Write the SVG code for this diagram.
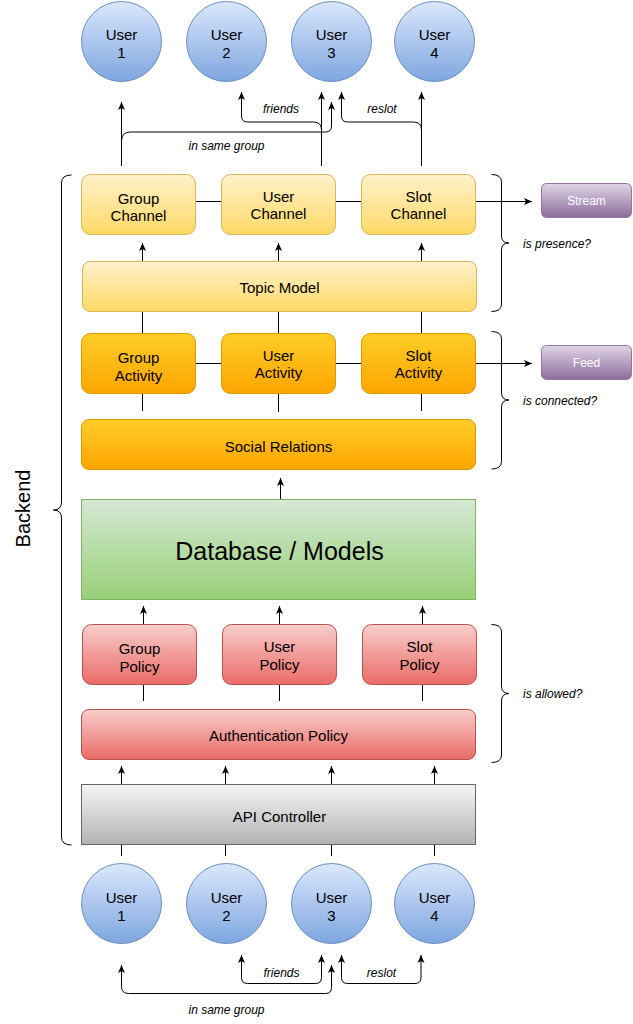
<svg xmlns="http://www.w3.org/2000/svg" width="633" height="1024" viewBox="0 0 633 1024">
<defs>
<linearGradient id="gBlue" x1="0" y1="0" x2="0" y2="1"><stop offset="0" stop-color="#dae8fc"/><stop offset="1" stop-color="#7ea6e0"/></linearGradient>
<linearGradient id="gYellow" x1="0" y1="0" x2="0" y2="1"><stop offset="0" stop-color="#fff2cc"/><stop offset="1" stop-color="#ffd966"/></linearGradient>
<linearGradient id="gOrange" x1="0" y1="0" x2="0" y2="1"><stop offset="0" stop-color="#ffcd28"/><stop offset="1" stop-color="#ffa500"/></linearGradient>
<linearGradient id="gGreen" x1="0" y1="0" x2="0" y2="1"><stop offset="0" stop-color="#d5e8d4"/><stop offset="1" stop-color="#97d077"/></linearGradient>
<linearGradient id="gRed" x1="0" y1="0" x2="0" y2="1"><stop offset="0" stop-color="#f8cecc"/><stop offset="1" stop-color="#ea6b66"/></linearGradient>
<linearGradient id="gGray" x1="0" y1="0" x2="0" y2="1"><stop offset="0" stop-color="#f5f5f5"/><stop offset="1" stop-color="#b3b3b3"/></linearGradient>
<linearGradient id="gPurple" x1="0" y1="0" x2="0" y2="1"><stop offset="0" stop-color="#e1d5e7"/><stop offset="1" stop-color="#8c6c9c"/></linearGradient>
<marker id="arr" viewBox="0 0 8 8" refX="8" refY="4" markerWidth="8" markerHeight="8" markerUnits="userSpaceOnUse" orient="auto-start-reverse"><path d="M0,0.5 L8,4 L0,7.5 L2,4 Z" fill="#000"/></marker>
</defs>
<style>
text{font-family:"Liberation Sans",Arial,sans-serif;fill:#000;}
.t{font-size:15px;text-anchor:middle;}
.lbl{font-size:12px;font-style:italic;}
.c{fill:none;stroke:#000;stroke-width:1;}
.a{marker-end:url(#arr);}
.aa{marker-start:url(#arr);marker-end:url(#arr);}
.user{fill:url(#gBlue);stroke:#6c8ebf;}
.yel{fill:url(#gYellow);stroke:#d6b656;}
.org{fill:url(#gOrange);stroke:#d79b00;}
.red{fill:url(#gRed);stroke:#b85450;}
.pur{fill:url(#gPurple);stroke:#9673a6;}
</style>
<rect width="633" height="1024" fill="#fff"/>

<g id="connectors">
<!-- top -->
<path class="c a" d="M121.5,166 L121.5,102"/>
<path class="c a" d="M121.5,141 Q121.5,132 130.5,132 L325.5,132 Q331.5,132 331.5,126 L331.5,102"/>
<path class="c a" d="M321.5,166 L321.5,92"/>
<path class="c a" d="M321.5,130 Q321.5,122 313.5,122 L247.5,122 Q241.5,122 241.5,116 L241.5,92"/>
<path class="c a" d="M421.5,166 L421.5,92"/>
<path class="c a" d="M421.5,130 Q421.5,122 413.5,122 L347.5,122 Q341.5,122 341.5,116 L341.5,92"/>
<!-- topic to channels -->
<path class="c a" d="M142.5,261.5 L142.5,243"/>
<path class="c a" d="M278.5,261.5 L278.5,243"/>
<path class="c a" d="M421.5,261.5 L421.5,243"/>
<path class="c" d="M195.5,201.5 L221.5,201.5 M335.5,201.5 L361.5,201.5"/>
<path class="c a" d="M475.5,201.5 L532,201.5"/>
<path class="c" d="M142.5,311.5 L142.5,333.5 M278.5,311.5 L278.5,333.5 M421.5,311.5 L421.5,333.5"/>
<path class="c" d="M195.5,363.5 L221.5,363.5 M335.5,363.5 L361.5,363.5"/>
<path class="c a" d="M475.5,363.5 L532,363.5"/>
<path class="c" d="M142.5,393.5 L142.5,411 M278.5,393.5 L278.5,412 M421.5,393.5 L421.5,411"/>
<path class="c a" d="M280.5,499.5 L280.5,478"/>
<path class="c a" d="M143.5,624.5 L143.5,606"/>
<path class="c a" d="M279.5,624.5 L279.5,606"/>
<path class="c a" d="M422.5,624.5 L422.5,606"/>
<path class="c" d="M143.5,684.5 L143.5,701 M279.5,684.5 L279.5,701 M422.5,684.5 L422.5,701"/>
<path class="c a" d="M121.5,784.5 L121.5,766"/>
<path class="c a" d="M225.5,784.5 L225.5,766"/>
<path class="c a" d="M331.5,784.5 L331.5,766"/>
<path class="c a" d="M434.5,784.5 L434.5,766"/>
<path class="c" d="M121.5,844.5 L121.5,856 M225.5,844.5 L225.5,856 M331.5,844.5 L331.5,856 M434.5,844.5 L434.5,856"/>
<!-- bottom -->
<path class="c aa" d="M121.5,965 L121.5,986.5 Q121.5,993.5 128.5,993.5 L325.5,993.5 Q331.5,993.5 331.5,987.5 L331.5,965"/>
<path class="c aa" d="M241.5,955 L241.5,977.5 Q241.5,983.5 247.5,983.5 L315.5,983.5 Q321.5,983.5 321.5,977.5 L321.5,955"/>
<path class="c aa" d="M341.5,955 L341.5,977.5 Q341.5,983.5 347.5,983.5 L415,983.5 Q421,983.5 421,977.5 L421,955"/>
<!-- braces -->
<path class="c" d="M491.5,174.5 Q501.5,174.5 501.5,182 L501.5,236 Q501.5,243 509,243 Q501.5,243 501.5,250 L501.5,304 Q501.5,311.5 491.5,311.5"/>
<path class="c" d="M491.5,331.5 Q501.5,331.5 501.5,339 L501.5,393 Q501.5,400 509,400 Q501.5,400 501.5,407 L501.5,461.5 Q501.5,469 491.5,469"/>
<path class="c" d="M491.5,624.5 Q501.5,624.5 501.5,632 L501.5,686 Q501.5,693.5 509,693.5 Q501.5,693.5 501.5,701 L501.5,755 Q501.5,762.5 491.5,762.5"/>
<path class="c" d="M71.5,175 Q61.5,175 61.5,183 L61.5,502 Q61.5,510 53.5,510 Q61.5,510 61.5,518 L61.5,837 Q61.5,845 71.5,845"/>
</g>

<g id="labels">
<text class="lbl" x="281" y="113" text-anchor="middle">friends</text>
<text class="lbl" x="382" y="113" text-anchor="middle">reslot</text>
<text class="lbl" x="226.5" y="150" text-anchor="middle">in same group</text>
<text class="lbl" x="281.5" y="976.5" text-anchor="middle">friends</text>
<text class="lbl" x="381.5" y="976.5" text-anchor="middle">reslot</text>
<text class="lbl" x="226.5" y="1013.5" text-anchor="middle">in same group</text>
<text class="lbl" x="523" y="248">is presence?</text>
<text class="lbl" x="523" y="405">is connected?</text>
<text class="lbl" x="523" y="698">is allowed?</text>
<text x="30" y="508.5" font-size="20" text-anchor="middle" transform="rotate(-90 30 508.5)">Backend</text>
</g>

<g id="user1-top"><circle class="user" cx="121.5" cy="41.5" r="40"/><text class="t" x="121.5" y="40">User</text><text class="t" x="121.5" y="58">1</text></g>
<g id="user2-top"><circle class="user" cx="226.5" cy="41.5" r="40"/><text class="t" x="226.5" y="40">User</text><text class="t" x="226.5" y="58">2</text></g>
<g id="user3-top"><circle class="user" cx="331.5" cy="41.5" r="40"/><text class="t" x="331.5" y="40">User</text><text class="t" x="331.5" y="58">3</text></g>
<g id="user4-top"><circle class="user" cx="434.5" cy="41.5" r="40"/><text class="t" x="434.5" y="40">User</text><text class="t" x="434.5" y="58">4</text></g>

<g id="group-channel"><rect class="yel" x="81.5" y="174.5" width="114" height="60" rx="9"/><text class="t" x="138.5" y="203.5">Group</text><text class="t" x="138.5" y="221">Channel</text></g>
<g id="user-channel"><rect class="yel" x="221.5" y="174.5" width="114" height="60" rx="9"/><text class="t" x="278.5" y="201.5">User</text><text class="t" x="278.5" y="219">Channel</text></g>
<g id="slot-channel"><rect class="yel" x="361.5" y="174.5" width="114" height="60" rx="9"/><text class="t" x="418.5" y="201.5">Slot</text><text class="t" x="418.5" y="219">Channel</text></g>
<g id="topic-model"><rect class="yel" x="82.5" y="261.5" width="394" height="50" rx="7.5"/><text class="t" x="279.5" y="293">Topic Model</text></g>

<g id="group-activity"><rect class="org" x="81.5" y="333.5" width="114" height="60" rx="9"/><text class="t" x="138.5" y="362.5">Group</text><text class="t" x="138.5" y="380.5">Activity</text></g>
<g id="user-activity"><rect class="org" x="221.5" y="333.5" width="114" height="60" rx="9"/><text class="t" x="278.5" y="360.5">User</text><text class="t" x="278.5" y="378">Activity</text></g>
<g id="slot-activity"><rect class="org" x="361.5" y="333.5" width="114" height="60" rx="9"/><text class="t" x="418.5" y="360.5">Slot</text><text class="t" x="418.5" y="378">Activity</text></g>
<g id="social-relations"><rect class="org" x="81.5" y="419.5" width="394" height="50" rx="7.5"/><text class="t" x="278.5" y="452">Social Relations</text></g>

<g id="database"><rect x="81.5" y="499.5" width="394" height="100" fill="url(#gGreen)" stroke="#82b366"/><text x="279.5" y="560" font-size="25" text-anchor="middle">Database / Models</text></g>

<g id="group-policy"><rect class="red" x="82.5" y="624.5" width="114" height="60" rx="9"/><text class="t" x="139.5" y="653.5">Group</text><text class="t" x="139.5" y="671.5">Policy</text></g>
<g id="user-policy"><rect class="red" x="222.5" y="624.5" width="114" height="60" rx="9"/><text class="t" x="279.5" y="651.5">User</text><text class="t" x="279.5" y="669.5">Policy</text></g>
<g id="slot-policy"><rect class="red" x="362.5" y="624.5" width="114" height="60" rx="9"/><text class="t" x="419.5" y="651.5">Slot</text><text class="t" x="419.5" y="669.5">Policy</text></g>
<g id="auth-policy"><rect class="red" x="81.5" y="709.5" width="394" height="50" rx="7.5"/><text class="t" x="278.5" y="741">Authentication Policy</text></g>

<g id="api-controller"><rect x="81.5" y="784.5" width="394" height="60" fill="url(#gGray)" stroke="#666666"/><text class="t" x="279.5" y="821.5">API Controller</text></g>

<g id="user1-bottom"><circle class="user" cx="121.5" cy="903.5" r="40"/><text class="t" x="121.5" y="902.5">User</text><text class="t" x="121.5" y="920.5">1</text></g>
<g id="user2-bottom"><circle class="user" cx="226.5" cy="903.5" r="40"/><text class="t" x="226.5" y="902.5">User</text><text class="t" x="226.5" y="920.5">2</text></g>
<g id="user3-bottom"><circle class="user" cx="331.5" cy="903.5" r="40"/><text class="t" x="331.5" y="902.5">User</text><text class="t" x="331.5" y="920.5">3</text></g>
<g id="user4-bottom"><circle class="user" cx="434.5" cy="903.5" r="40"/><text class="t" x="434.5" y="902.5">User</text><text class="t" x="434.5" y="920.5">4</text></g>

<g id="stream"><rect class="pur" x="541.5" y="183.5" width="90" height="34" rx="5"/><text x="586.5" y="205" font-size="12" text-anchor="middle" style="fill:#ffffff">Stream</text></g>
<g id="feed"><rect class="pur" x="541.5" y="345.5" width="90" height="34" rx="5"/><text x="586.5" y="367" font-size="12" text-anchor="middle" style="fill:#ffffff">Feed</text></g>
</svg>
